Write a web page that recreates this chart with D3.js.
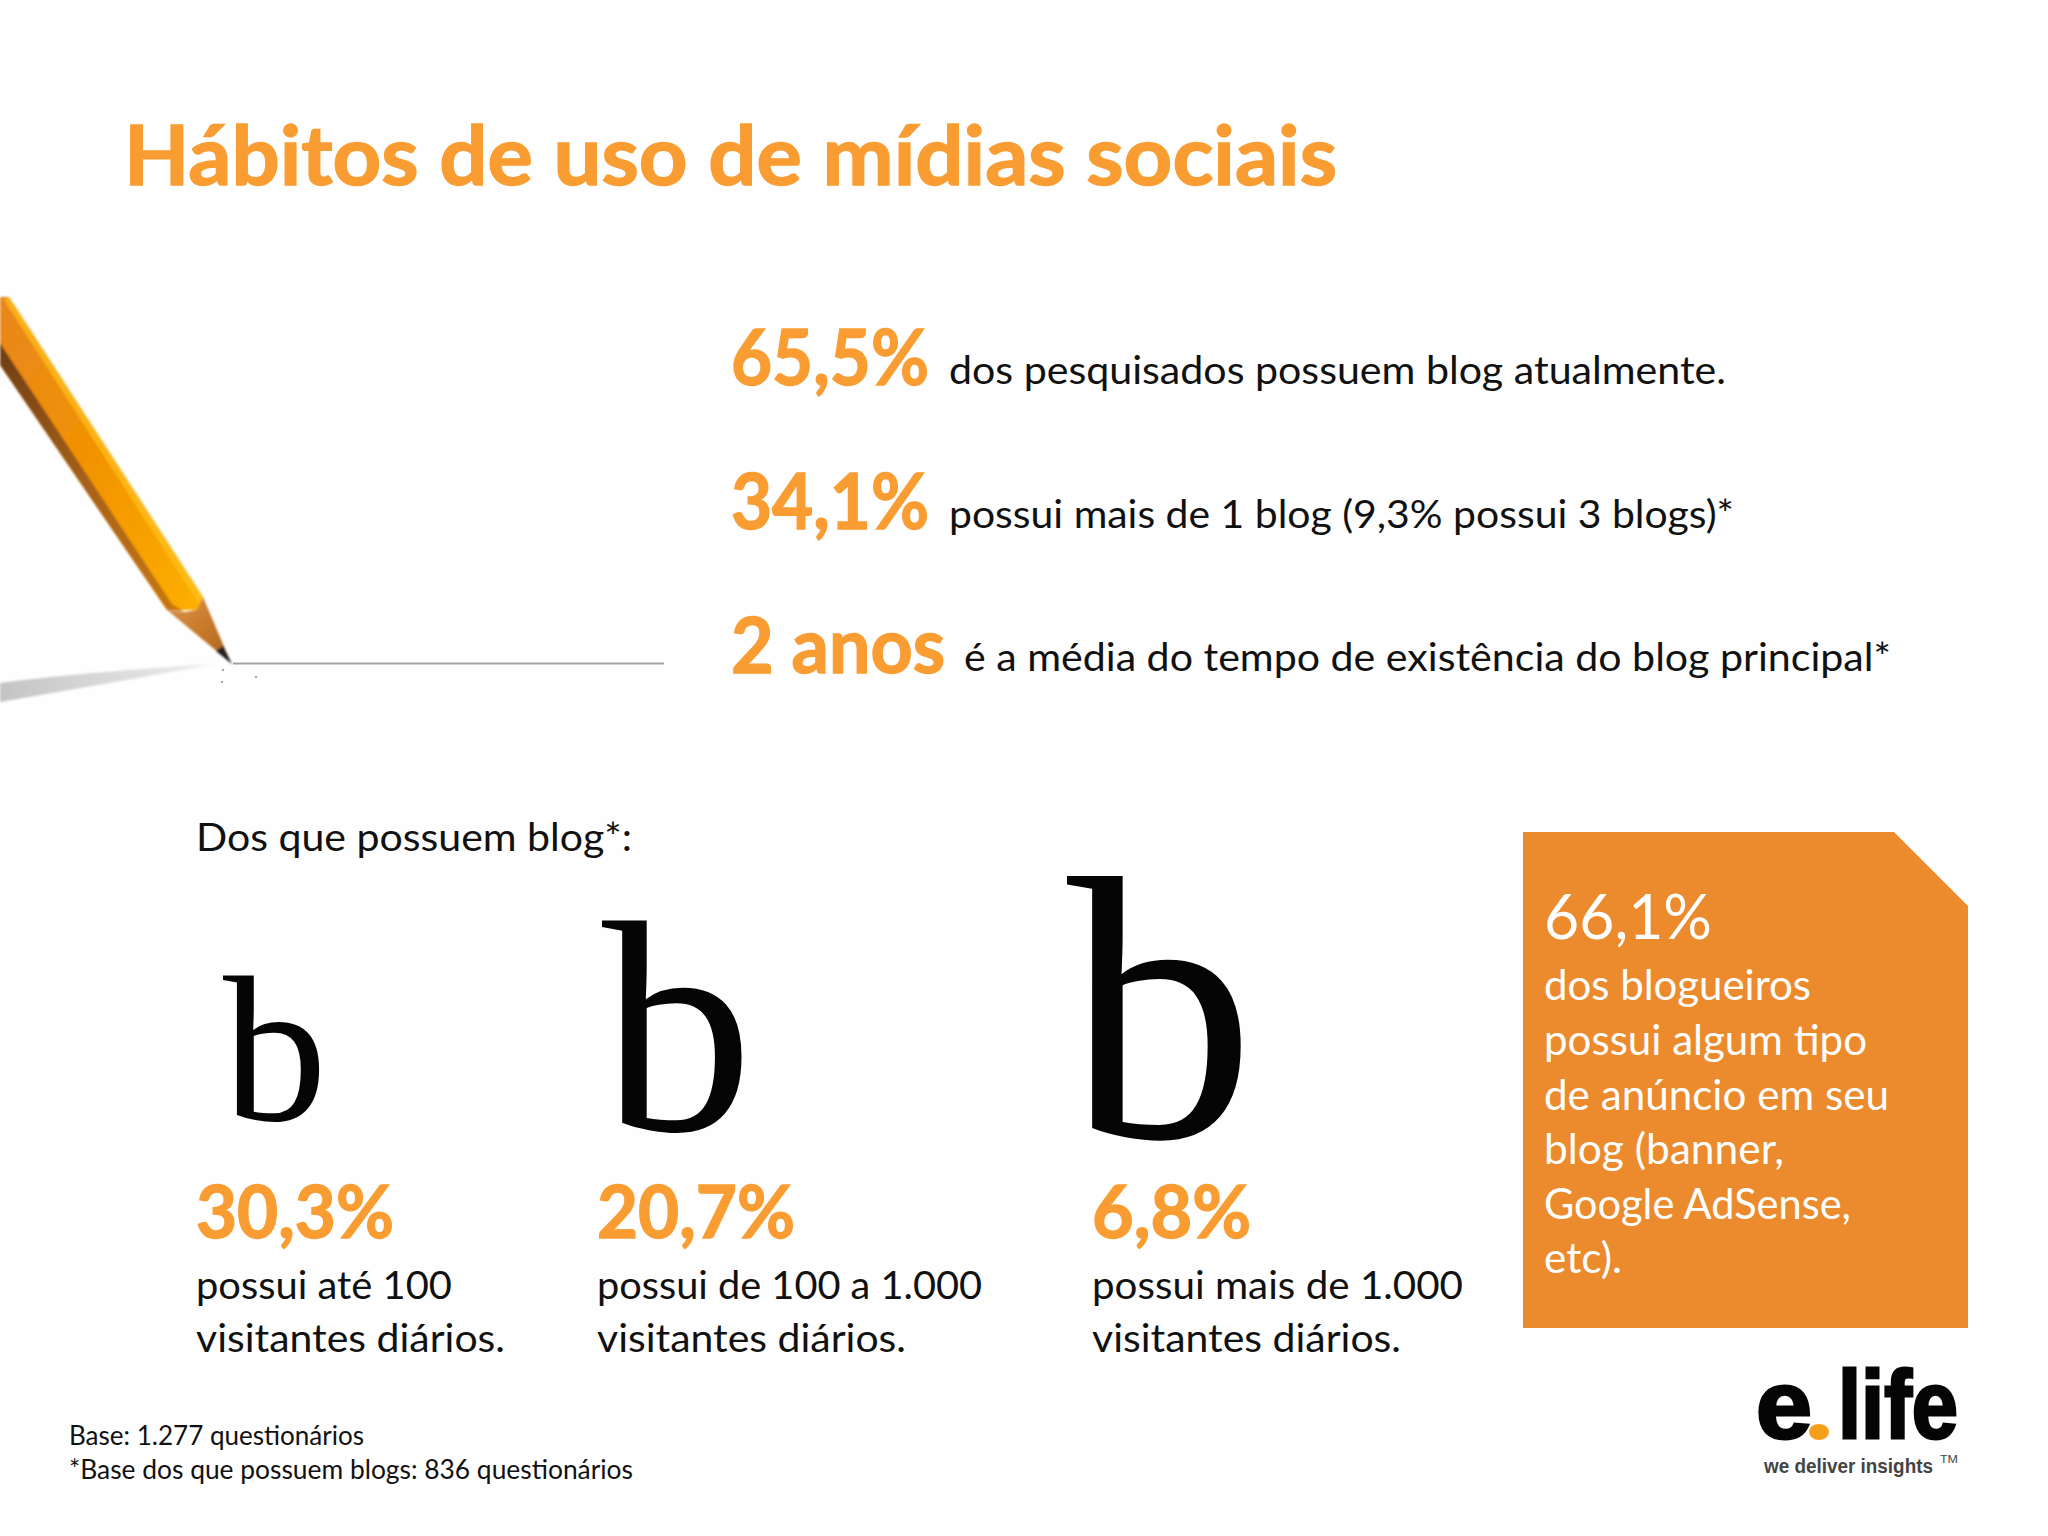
<!DOCTYPE html>
<html>
<head>
<meta charset="utf-8">
<title>Hábitos de uso de mídias sociais</title>
<script src="https://d3js.org/d3.v7.min.js"></script>
<style>
html, body { margin: 0; padding: 0; background: #fefefe; }
svg { display: block; }
text { font-family: Lato, "Open Sans", sans-serif; }
.orange { fill: #f99d33; stroke: #f99d33; stroke-width: 1.4; font-weight: 700; }
</style>
</head>
<body>
<div id="chart"></div>
<script>
// values
var titleText = "Hábitos de uso de mídias sociais";
var headlineValues = ["65,5%", "34,1%", "2 anos"];
var headlineTexts = [
  "dos pesquisados possuem blog atualmente.",
  "possui mais de 1 blog (9,3% possui 3 blogs)*",
  "é a média do tempo de existência do blog principal*"
];
var sectionLabel = "Dos que possuem blog*:";
var visitorCategories = ["ate100", "ate1000", "mais1000"];
var visitorValues = [30.3, 20.7, 6.8];
var visitorLine1 = ["possui até 100", "possui de 100 a 1.000", "possui mais de 1.000"];
var visitorLine2 = ["visitantes diários.", "visitantes diários.", "visitantes diários."];
var calloutValue = 66.1;
var calloutLines = ["dos blogueiros", "possui algum tipo", "de anúncio em seu", "blog (banner,", "Google AdSense,", "etc)."];
var footnotes = ["Base: 1.277 questionários", "*Base dos que possuem blogs: 836 questionários"];

var width = 2048, height = 1536;
var pct = d3.formatLocale({ decimal: ",", thousands: ".", grouping: [3], currency: ["", ""] }).format(".1f");

var svg = d3.select("#chart").append("svg").attr("width", width).attr("height", height);
svg.append("rect").attr("width", width).attr("height", height).attr("fill", "#fefefe");

// text stretched to the width it has in the picture
function put(g, str, x, y, size, w) {
  var t = g.append("text").attr("x", x).attr("y", y).attr("font-size", size).text(str);
  if (w) t.attr("textLength", w).attr("lengthAdjust", "spacingAndGlyphs");
  return t;
}

put(svg, titleText, 124, 185, 82, 1213).attr("class", "orange");

// Headline stats
var headY = d3.scaleOrdinal([0, 1, 2], [385, 529, 673]);
var headValueW = [198, 198, 214];
var headTextX = [949, 949, 964];
var headTextW = [777, 785, 927];
headlineValues.forEach(function (d, i) {
  put(svg, d, 731, headY(i), 76, headValueW[i]).attr("class", "orange");
  put(svg, headlineTexts[i], headTextX[i], [384, 528, 671][i], 39, headTextW[i]).attr("fill", "#111");
});

put(svg, sectionLabel, 196, 851, 39, 436).attr("fill", "#111");

// Columns: blog glyph grows with the visitor band
var colX = d3.scaleOrdinal(visitorCategories, [196, 597, 1092]);
var glyphX = d3.scaleOrdinal(visitorCategories, [223, 602, 1067]);
var glyphBase = d3.scaleOrdinal(visitorCategories, [1120, 1130, 1137]);
var glyphSize = d3.scaleOrdinal(visitorCategories, [208, 302, 376]);
var valueW = [198, 198, 159];
var line1W = [256, 385, 371];

visitorCategories.forEach(function (c, i) {
  svg.append("text").attr("x", glyphX(c)).attr("y", glyphBase(c))
    .attr("font-size", glyphSize(c)).style("font-family", "'Liberation Serif', serif")
    .attr("fill", "#050505").text("b");
  put(svg, pct(visitorValues[i]) + "%", colX(c), 1238, 72, valueW[i]).attr("class", "orange");
  put(svg, visitorLine1[i], colX(c), 1299, 39, line1W[i]).attr("fill", "#111");
  put(svg, visitorLine2[i], colX(c), 1352, 39, 309).attr("fill", "#111");
});

// Callout box with the cut corner
svg.append("path").attr("d", "M1523,832H1894L1968,906V1328H1523Z").attr("fill", "#ec8b2d");
put(svg, pct(calloutValue) + "%", 1544, 939, 62, 168).attr("fill", "#fff");
var calloutY = [1000, 1055, 1110, 1164, 1219, 1273];
var calloutW = [267, 323, 345, 240, 307, 78];
calloutLines.forEach(function (d, i) {
  put(svg, d, 1544, calloutY[i], 42, calloutW[i]).attr("fill", "#fff");
});

// Footnotes
put(svg, footnotes[0], 69, 1445, 26, 295).attr("fill", "#111");
put(svg, footnotes[1], 69, 1479, 26, 564).attr("fill", "#111");

// Logo
var logo = svg.append("g").style("font-weight", 700);
logo.selectAll("text.word").data([["e", 1756, 56], ["life", 1838, 120]]).enter().append("text")
  .attr("class", "word").attr("x", function (d) { return d[1]; }).attr("y", 1438)
  .attr("font-size", 97).attr("textLength", function (d) { return d[2]; })
  .attr("lengthAdjust", "spacingAndGlyphs").style("font-family", "'Liberation Sans', sans-serif")
  .attr("stroke", "#050505").attr("stroke-width", 3).attr("fill", "#050505")
  .text(function (d) { return d[0]; });
logo.append("ellipse").attr("cx", 1819).attr("cy", 1432).attr("rx", 10).attr("ry", 8).attr("fill", "#f7a11a");
put(svg, "we deliver insights", 1764, 1473, 21, 169).attr("fill", "#444").style("font-family", "'Liberation Sans', sans-serif").style("font-weight", 700);
put(svg, "TM", 1940, 1463, 11, 18).attr("fill", "#444").style("font-family", "'Liberation Sans', sans-serif");

// Pencil drawing
var defs = svg.append("defs");
function grad(id, stops) {
  var g = defs.append("linearGradient").attr("id", id).attr("x1", 0).attr("y1", 0).attr("x2", 1).attr("y2", 1);
  stops.forEach(function (s, i) {
    g.append("stop").attr("offset", i / (stops.length - 1)).attr("stop-color", s);
  });
}
grad("bodyFill", ["#e8861e", "#f29400", "#fdaf00"]);
grad("darkFill", ["#6f3d16", "#a7611a", "#c9780f"]);
grad("woodFill", ["#d9974f", "#c97a2a", "#a8641f"]);
var shadow = defs.append("linearGradient").attr("id", "shadowFill");
shadow.append("stop").attr("offset", 0).attr("stop-color", "#c4c4c4");
shadow.append("stop").attr("offset", 1).attr("stop-color", "#eeeeee");
defs.append("filter").attr("id", "soft").append("feGaussianBlur").attr("stdDeviation", 0.8);

var pencil = svg.append("g");
pencil.append("path").attr("d", "M0,702L0,683C70,674 150,668 215,664C150,676 70,690 0,702Z").attr("fill", "url(#shadowFill)").attr("filter", "url(#soft)");
pencil.append("path").attr("d", "M233,663.5H664").attr("stroke", "#a3a3a3").attr("stroke-width", 2.2).attr("fill", "none");
pencil.selectAll("circle").data([[223, 670], [222, 682], [256, 677]]).enter().append("circle")
  .attr("cx", function (d) { return d[0]; }).attr("cy", function (d) { return d[1]; })
  .attr("r", 1.2).attr("fill", "#aaa");
var body = pencil.append("g").attr("filter", "url(#soft)");
body.append("path").attr("d", "M0,297H9L203,597L198,610L167,610L0,365Z").attr("fill", "url(#bodyFill)");
body.append("path").attr("d", "M9,297L203,597L199,604L4,300Z").attr("fill", "#ffc21a").attr("opacity", 0.7);
body.append("path").attr("d", "M0,343L172,604L183,611L167,610L0,365Z").attr("fill", "url(#darkFill)");
body.append("path").attr("d", "M203,597L231,663L167,610L185,612L197,610Z").attr("fill", "url(#woodFill)");
body.append("path").attr("d", "M223,646L232,664L216,651Z").attr("fill", "#222");
</script>
</body>
</html>
